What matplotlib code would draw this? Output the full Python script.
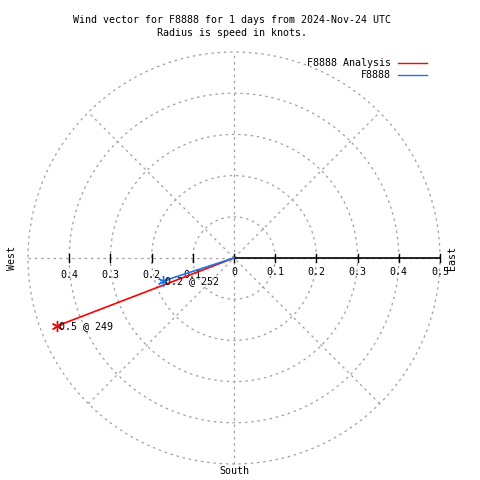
import numpy as np
import matplotlib
matplotlib.use("Agg")
import matplotlib.pyplot as plt

# wind vectors: speed (knots) and direction (degrees, compass)
series = ["F8888 Analysis", "F8888"]
speeds = [0.46, 0.18]
directions = [249, 252]
labels = ["0.5 @ 249", "0.2 @ 252"]
colors = ["#ff0000", "#1a75e6"]

rings = [0.1, 0.2, 0.3, 0.4, 0.5]
rmax = 0.5

plt.rcParams['font.family'] = ['DejaVu Sans Mono']
fs = 7.2

fig = plt.figure(figsize=(4.8, 4.8), dpi=100)
ax = fig.add_axes([0, 0, 1, 1])
scale = 412.0  # pixels per knot
cx, cy = 234, 258
ax.set_xlim(-cx / scale, (480 - cx) / scale)
ax.set_ylim(-(480 - cy) / scale, cy / scale)
ax.axis("off")

grid = dict(color="#a0a0a0", lw=0.9, ls=(0, (2, 3)), zorder=1)
t = np.linspace(0, 2 * np.pi, 400)
for r in rings:
    ax.plot(r * np.cos(t), r * np.sin(t), **grid)
for ang in [0, 45, 90, 135]:
    a = np.radians(ang)
    ax.plot([-rmax * np.cos(a), rmax * np.cos(a)], [-rmax * np.sin(a), rmax * np.sin(a)], **grid)

# radius axis (east)
ax.plot([0, rmax], [0, 0], color="black", lw=1.2, zorder=2)
tk = 4 / scale
for r in [0] + rings:
    ax.plot([r, r], [-tk, tk], color="black", lw=1, zorder=2)
    ax.text(r, -14 / scale, "0" if r == 0 else f"{r:.1f}", fontsize=fs, ha="center", va="center")
for r in rings[:-1]:
    ax.plot([-r, -r], [-tk, tk], color="black", lw=1, zorder=2)
    ax.text(-r, -17 / scale, f"{r:.1f}", fontsize=fs, ha="center", va="center")

ax.text(rmax + 12 / scale, 0, "East", rotation=90, fontsize=fs, ha="center", va="center")
ax.text(-rmax - 16 / scale, 0, "West", rotation=90, fontsize=fs, ha="center", va="center")
ax.text(0, -rmax - 7 / scale, "South", fontsize=fs, ha="center", va="center")

# vectors
for s, d, lab, c in zip(speeds, directions, labels, colors):
    a = np.radians(90 - d)
    x, y = s * np.cos(a), s * np.sin(a)
    ax.plot([0, x], [0, y], color=c, lw=1.2, zorder=3)
    ax.plot([x], [y], marker=(6, 2, 0), color=c, ms=8, mew=1, zorder=4)
    ax.text(x + 2 / scale, y, lab, fontsize=fs, ha="left", va="center", zorder=5)

# legend
for i, (name, c) in enumerate(zip(series, colors)):
    ypx = 63 + 12 * i
    fig.text(391 / 480, 1 - ypx / 480, name, fontsize=fs, ha="right", va="center")
    fig.add_artist(plt.Line2D([398 / 480, 427 / 480], [1 - ypx / 480, 1 - ypx / 480], color=c, lw=1))

fig.text(232 / 480, 1 - 20 / 480, "Wind vector for F8888 for 1 days from 2024-Nov-24 UTC",
         fontsize=fs, ha="center", va="center")
fig.text(232 / 480, 1 - 33 / 480, "Radius is speed in knots.", fontsize=fs, ha="center", va="center")

fig.savefig("out.png", dpi=100, facecolor="white")
